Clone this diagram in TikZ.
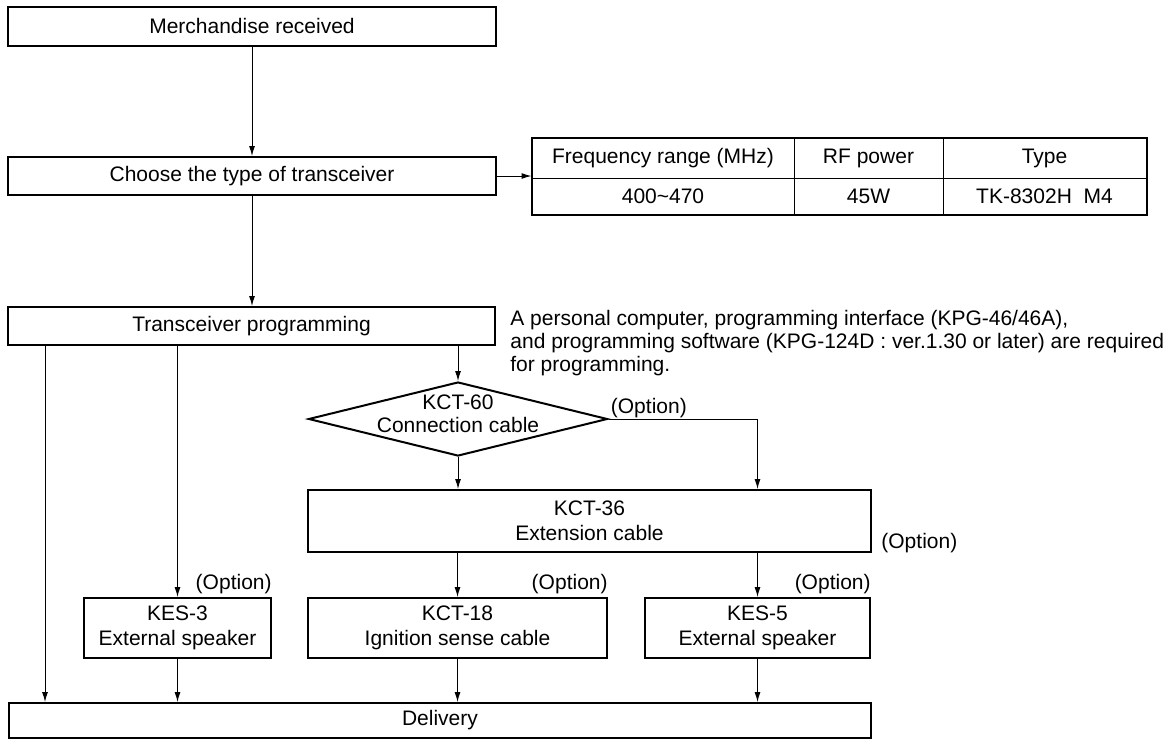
\documentclass[tikz,border=0pt]{standalone}
\usepackage{fontspec}
\setmainfont{Liberation Sans}
\usetikzlibrary{shapes.geometric,arrows.meta}

\begin{document}
\begin{tikzpicture}[x=0.5pt,y=-0.5pt,
  font=\fontsize{10.5}{12.5}\selectfont,
  block/.style={rectangle,draw,line width=1pt,inner sep=0pt,align=center},
  cell/.style={rectangle,draw,line width=0.5pt,inner sep=0pt,minimum width=#1},
  flow/.style={-{Latex[length=5pt,width=3pt]},line width=0.5pt},
  opt/.style={inner sep=0pt}]
  \useasboundingbox (0,0) rectangle (1172,740);
  % Main steps
  \node[block,minimum width=244pt,minimum height=19.5pt] (recv) at (252,26) {Merchandise received};
  \node[block,minimum width=244pt,minimum height=19pt] (choose) at (252,176) {Choose the type of transceiver};
  \node[block,minimum width=243.5pt,minimum height=19pt] (prog) at (251.5,326) {Transceiver programming};
  \node[anchor=north west,inner sep=0pt,align=left,font=\fontsize{10.5}{11.5}\selectfont] (note) at (510,310)
    {A personal computer, programming interface (KPG-46/46A),\\
     and programming software (KPG-124D : ver.1.30 or later) are required\\
     for programming.};
  % Table of types
  \node[cell=131pt,minimum height=20pt] (f1) at (663,158) {Frequency range (MHz)};
  \node[cell=74.5pt,minimum height=20pt] (p1) at (868.5,158) {RF power};
  \node[cell=101.5pt,minimum height=20pt] (t1) at (1044.5,158) {Type};
  \node[cell=131pt,minimum height=18pt] (f2) at (663,196) {400\textasciitilde 470};
  \node[cell=74.5pt,minimum height=18pt] (p2) at (868.5,196) {45W};
  \node[cell=101.5pt,minimum height=18pt] (t2) at (1044.5,196) {TK-8302H~~M4};
  \draw[line width=1pt] (f1.north west) rectangle (t2.south east);
  % Cables and options
  \node[diamond,draw,line width=1pt,minimum width=149.5pt,minimum height=37pt,inner sep=0pt,
    label={[align=center,yshift=2.5pt,font=\fontsize{10.5}{11.5}\selectfont]center:{KCT-60\\Connection cable}}] (kct60) at (458,419) {};
  \node[block,minimum width=281.5pt,minimum height=31pt] (kct36) at (589.5,521) {KCT-36\\Extension cable};
  \node[block,minimum width=93.5pt,minimum height=30pt] (kes3) at (177.5,628) {KES-3\\External speaker};
  \node[block,minimum width=149.5pt,minimum height=30pt] (kct18) at (457.5,628) {KCT-18\\Ignition sense cable};
  \node[block,minimum width=112.5pt,minimum height=30pt] (kes5) at (757.5,628) {KES-5\\External speaker};
  \node[block,minimum width=431pt,minimum height=17.5pt] (delivery) at (440,720.5) {Delivery};
  % Option marks
  \node[opt,anchor=south west] at ([xshift=1pt,yshift=0.5pt]kct60.east) {(Option)};
  \node[opt,anchor=south west] at ([xshift=4.5pt]kct36.south east) {(Option)};
  \foreach \n in {kes3,kct18,kes5}
    \node[opt,anchor=south east] at ([yshift=1.5pt]\n.north east) {(Option)};
  % Connectors
  \draw[flow] (recv) -- (choose);
  \draw[flow] (choose.south) -- (choose.south |- prog.north);
  \draw[flow] (choose.east) -- (choose.east -| f1.west);
  \draw[flow] ([xshift=19pt]prog.south west) -- ([xshift=19pt]prog.south west |- delivery.north);
  \draw[flow] (prog.south -| kes3) -- (kes3.north);
  \draw[flow] (prog.south -| kct60) -- (kct60.north);
  \draw[flow] (kct60.south) -- (kct60.south |- kct36.north);
  \draw[flow] (kct60.east) -| (kct36.north -| kes5);
  \draw[flow] (kct36.south -| kct18) -- (kct18.north);
  \draw[flow] (kct36.south -| kes5) -- (kes5.north);
  \foreach \n in {kes3,kct18,kes5}
    \draw[flow] (\n.south) -- (\n.south |- delivery.north);
\end{tikzpicture}
\end{document}
